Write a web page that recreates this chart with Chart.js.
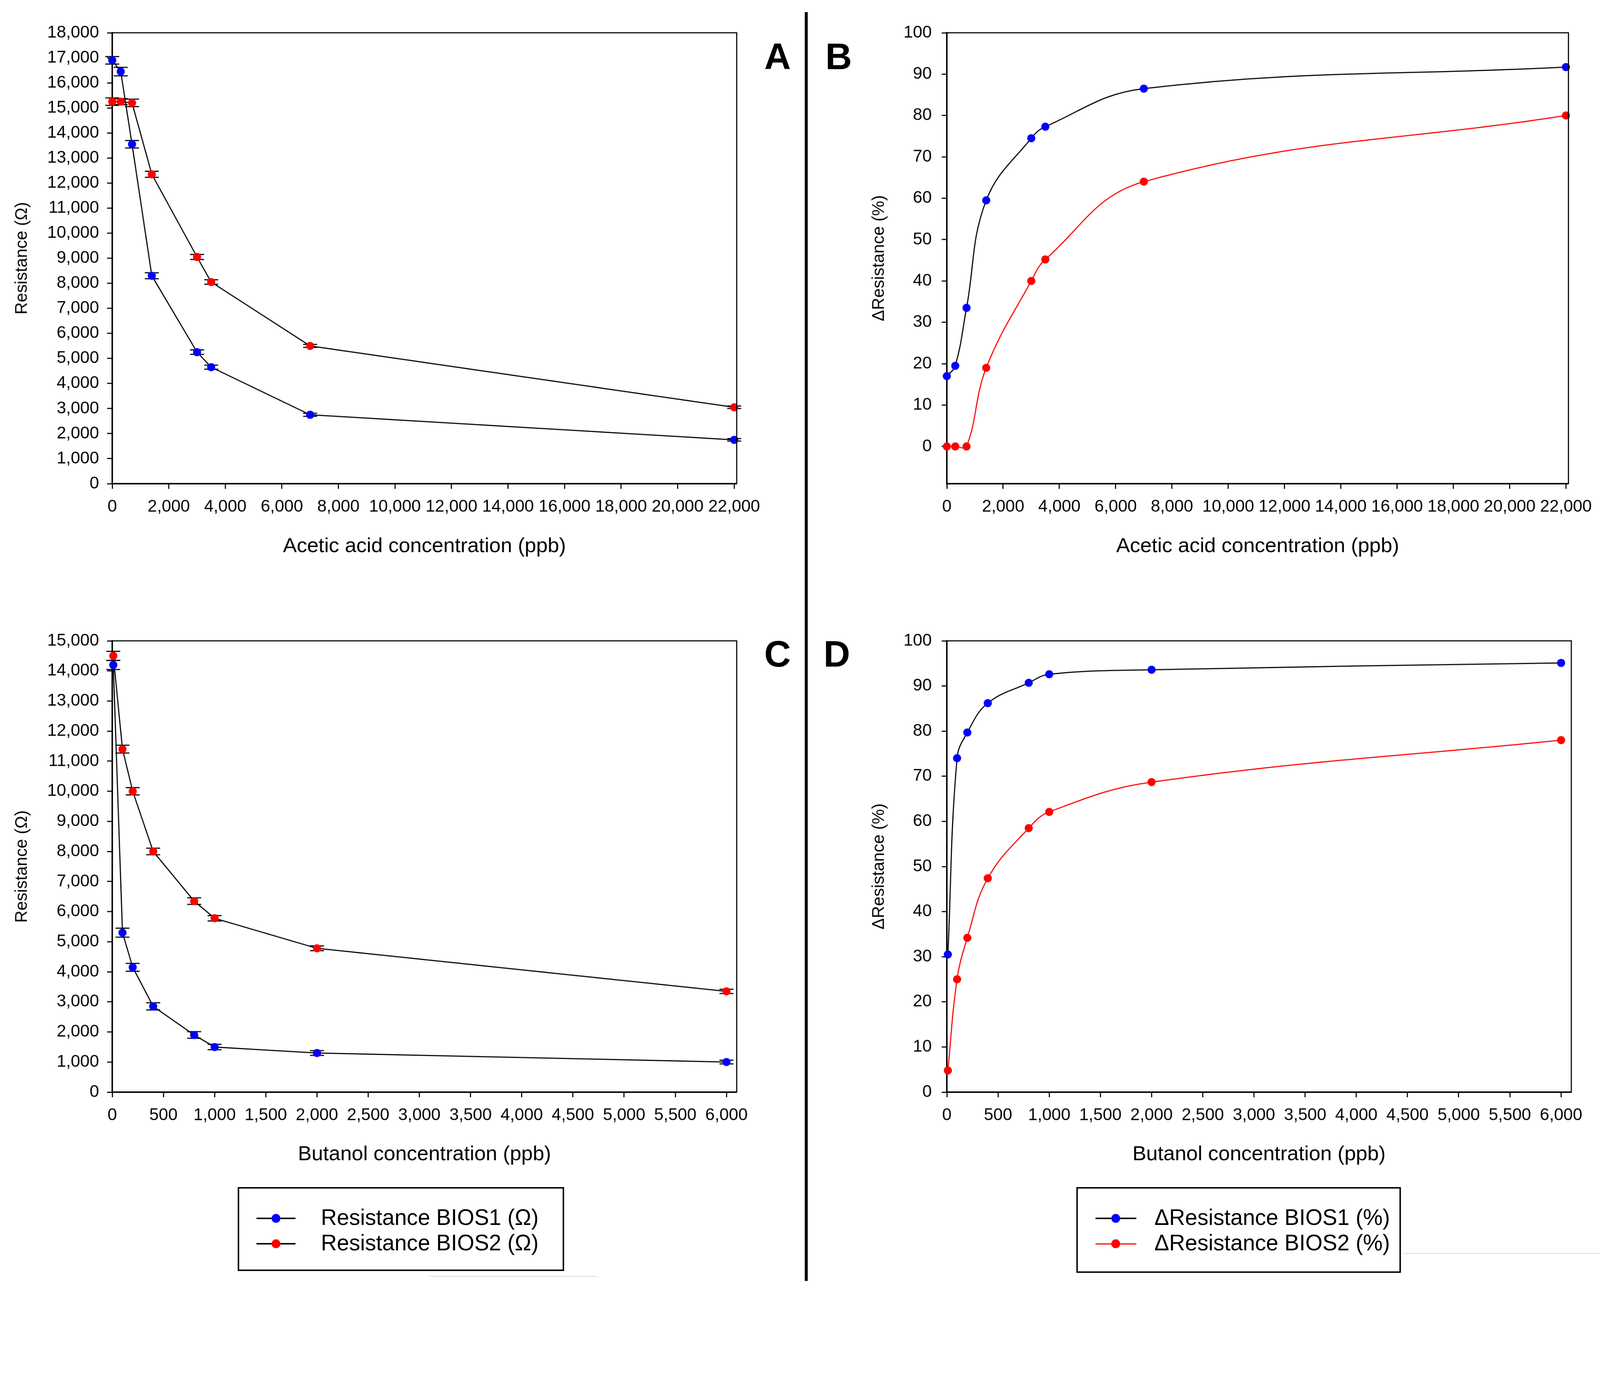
<!DOCTYPE html>
<html>
<head>
<meta charset="utf-8">
<script src="https://cdn.jsdelivr.net/npm/chart.js@4.4.0/dist/chart.umd.min.js"></script>
<style>
  html, body { margin:0; padding:0; background:#fff; overflow:hidden; }
  body { font-family:"Liberation Sans", Arial, sans-serif; color:#000; }
  #page { position:absolute; left:0; top:0; width:4348px; height:3519px; transform-origin:0 0; background:#fff; }
  canvas { position:absolute; }
  .letter { position:absolute; font:bold 100px "Liberation Sans", Arial, sans-serif; line-height:1; }
  .divider { position:absolute; left:2187px; top:33px; width:8px; height:3447px; background:#000; }
  .legend { position:absolute; border:4px solid #000; box-sizing:border-box; background:#fff; }
  .legend .line { position:absolute; height:4px; }
  .legend .dot { position:absolute; width:24px; height:24px; border-radius:50%; }
  .legend .label { position:absolute; font-size:60px; line-height:1; white-space:nowrap; }
  .ghost { position:absolute; height:3px; background:#e4e4e4; }
</style>
</head>
<body>
<div id="page">
<canvas id="panelA" width="2180" height="1560" style="left:0;top:0"></canvas>
<canvas id="panelB" width="2148" height="1560" style="left:2200px;top:0"></canvas>
<canvas id="panelC" width="2180" height="1560" style="left:0;top:1650px"></canvas>
<canvas id="panelD" width="2148" height="1560" style="left:2200px;top:1650px"></canvas>

<div class="divider"></div>
<div class="letter" style="left:2077px;top:103px">A</div>
<div class="letter" style="left:2243px;top:103px">B</div>
<div class="letter" style="left:2077px;top:1726px">C</div>
<div class="letter" style="left:2238px;top:1726px">D</div>

<div class="legend" style="left:646px;top:3225px;width:887px;height:228px">
  <div class="line" style="left:47px;top:79px;width:106px;background:#000"></div>
  <div class="dot" style="left:88px;top:69px;background:#0000ff"></div>
  <div class="label" style="left:222px;top:49px">Resistance BIOS1 (Ω)</div>
  <div class="line" style="left:47px;top:148px;width:106px;background:#000"></div>
  <div class="dot" style="left:88px;top:138px;background:#ff0000"></div>
  <div class="label" style="left:222px;top:118px">Resistance BIOS2 (Ω)</div>
</div>
<div class="ghost" style="left:1165px;top:3466px;width:457px"></div>

<div class="legend" style="left:2925px;top:3225px;width:882px;height:233px">
  <div class="line" style="left:48px;top:79px;width:111px;background:#000"></div>
  <div class="dot" style="left:91px;top:69px;background:#0000ff"></div>
  <div class="label" style="left:208px;top:49px">ΔResistance BIOS1 (%)</div>
  <div class="line" style="left:48px;top:149px;width:111px;height:3px;background:#ff0000"></div>
  <div class="dot" style="left:91px;top:138px;background:#ff0000"></div>
  <div class="label" style="left:208px;top:118px">ΔResistance BIOS2 (%)</div>
</div>
<div class="ghost" style="left:3812px;top:3404px;width:536px"></div>
</div>

<script>
// acetic acid exposure (panels A, B)
const acidPpb = [0, 300, 700, 1400, 3000, 3500, 7000, 22000];
const acidResBios1 = [16900, 16450, 13550, 8300, 5250, 4650, 2750, 1750];
const acidResBios2 = [15250, 15250, 15200, 12350, 9050, 8050, 5500, 3050];
const acidErrBios1 = [150, 170, 150, 120, 90, 80, 60, 50];
const acidErrBios2 = [150, 120, 150, 120, 100, 90, 60, 50];
const acidDeltaBios1 = [17, 19.5, 33.5, 59.5, 74.5, 77.3, 86.5, 91.7];
const acidDeltaBios2 = [0, 0, 0, 19, 40, 45.2, 64, 80];

// butanol exposure (panels C, D)
const butanolPpb = [10, 100, 200, 400, 800, 1000, 2000, 6000];
const butResBios1 = [14200, 5300, 4150, 2850, 1900, 1500, 1300, 1000];
const butResBios2 = [14500, 11400, 10000, 8000, 6350, 5780, 4780, 3350];
const butErrBios1 = [150, 150, 130, 120, 110, 90, 80, 60];
const butErrBios2 = [150, 130, 120, 110, 110, 90, 80, 70];
const butDeltaBios1 = [30.5, 74, 79.7, 86.2, 90.7, 92.6, 93.6, 95.1];
const butDeltaBios2 = [4.8, 25, 34.2, 47.4, 58.5, 62.1, 68.7, 78];

// tick labels
const acidTicks = [0, 2000, 4000, 6000, 8000, 10000, 12000, 14000, 16000, 18000, 20000, 22000];
const butanolTicks = [0, 500, 1000, 1500, 2000, 2500, 3000, 3500, 4000, 4500, 5000, 5500, 6000];
const resAcidTicks = [0, 1000, 2000, 3000, 4000, 5000, 6000, 7000, 8000, 9000, 10000, 11000, 12000, 13000, 14000, 15000, 16000, 17000, 18000];
const resButTicks = [0, 1000, 2000, 3000, 4000, 5000, 6000, 7000, 8000, 9000, 10000, 11000, 12000, 13000, 14000, 15000];
const pctTicks = [0, 10, 20, 30, 40, 50, 60, 70, 80, 90, 100];

// the layout is drawn on a 4348x3519 sheet, scaled to whatever the window really is
const page = document.getElementById('page');
const fit = Math.min(window.innerWidth / 4348, window.innerHeight / 3519);
page.style.transform = 'scale(' + fit + ')';

Chart.defaults.font.family = '"Liberation Sans", Arial, sans-serif';
Chart.defaults.color = '#000';

const BLUE = '#0000ff';
const RED = '#ff0000';

function pairs(xs, ys) {
  return xs.map((x, i) => ({ x: x, y: ys[i] }));
}

// top and right sides of the plot frame
const frame = {
  id: 'frame',
  afterDraw(chart) {
    const { ctx, chartArea: a } = chart;
    ctx.save();
    ctx.strokeStyle = '#000';
    ctx.lineWidth = 3;
    ctx.beginPath();
    ctx.moveTo(a.left, a.top);
    ctx.lineTo(a.right, a.top);
    ctx.lineTo(a.right, a.bottom);
    ctx.stroke();
    ctx.restore();
  }
};

const errorBars = {
  id: 'errorBars',
  beforeDatasetsDraw(chart) {
    const { ctx, scales: { x, y } } = chart;
    chart.data.datasets.forEach(ds => {
      if (!ds.errors) return;
      ctx.save();
      ctx.strokeStyle = '#000';
      ctx.lineWidth = 3;
      ds.data.forEach((p, i) => {
        const px = x.getPixelForValue(p.x);
        const hi = y.getPixelForValue(p.y + ds.errors[i]);
        const lo = y.getPixelForValue(p.y - ds.errors[i]);
        ctx.beginPath();
        ctx.moveTo(px, hi); ctx.lineTo(px, lo);
        ctx.moveTo(px - 19, hi); ctx.lineTo(px + 19, hi);
        ctx.moveTo(px - 19, lo); ctx.lineTo(px + 19, lo);
        ctx.stroke();
      });
      ctx.restore();
    });
  }
};

function series(data, dotColor, lineColor, tension, errors) {
  return {
    data: data,
    errors: errors,
    borderColor: lineColor,
    borderWidth: 3,
    tension: tension,
    pointRadius: 11,
    pointBorderWidth: 0,
    pointBackgroundColor: dotColor,
    pointBorderColor: dotColor,
    clip: false
  };
}

function panel(id, o) {
  return new Chart(document.getElementById(id), {
    type: 'line',
    data: { datasets: o.datasets },
    options: {
      responsive: false,
      animation: false,
      layout: { padding: { top: o.top, right: o.right, left: 0, bottom: 0 } },
      plugins: { legend: { display: false }, tooltip: { enabled: false } },
      scales: {
        x: {
          type: 'linear',
          min: 0,
          max: o.xMax,
          afterBuildTicks: axis => { axis.ticks = o.xTicks.map(v => ({ value: v })); },
          afterFit: axis => { axis.height = o.xHeight; },
          border: { color: '#000', width: 4 },
          grid: { drawOnChartArea: false, drawTicks: true, tickLength: 14, tickWidth: 3, tickColor: '#000' },
          ticks: {
            font: { size: 46 },
            padding: 22,
            maxRotation: 0,
            autoSkip: false,
            callback: v => v.toLocaleString('en-US')
          },
          title: { display: true, text: o.xTitle, font: { size: 56 }, padding: { top: 0, bottom: o.xTitlePad } }
        },
        y: {
          type: 'linear',
          min: o.yMin,
          max: o.yMax,
          afterBuildTicks: axis => { axis.ticks = o.yTicks.map(v => ({ value: v })); },
          afterFit: axis => { axis.width = o.yWidth; },
          border: { color: '#000', width: 4 },
          grid: { drawOnChartArea: false, drawTicks: true, tickLength: 14, tickWidth: 3, tickColor: '#000' },
          ticks: {
            font: { size: 46 },
            padding: o.yTickPad,
            autoSkip: false,
            callback: v => v.toLocaleString('en-US')
          },
          title: { display: true, text: o.yTitle, font: { size: 46 }, padding: { top: o.yTitlePad, bottom: 0 } }
        }
      }
    },
    plugins: [frame, errorBars]
  });
}

panel('panelA', {
  top: 89, right: 178, yWidth: 305, xHeight: 246,
  xMax: 22090, xTicks: acidTicks, xTitle: 'Acetic acid concentration (ppb)', xTitlePad: 42,
  yMin: 0, yMax: 18000, yTicks: resAcidTicks, yTitle: 'Resistance (Ω)', yTitlePad: 33, yTickPad: 22,
  datasets: [
    series(pairs(acidPpb, acidResBios1), BLUE, '#000', 0, acidErrBios1),
    series(pairs(acidPpb, acidResBios2), RED, '#000', 0, acidErrBios2)
  ]
});

panel('panelB', {
  top: 89, right: 78, yWidth: 373, xHeight: 246,
  xMax: 22090, xTicks: acidTicks, xTitle: 'Acetic acid concentration (ppb)', xTitlePad: 42,
  yMin: -9, yMax: 100, yTicks: pctTicks, yTitle: 'ΔResistance (%)', yTitlePad: 162, yTickPad: 27,
  datasets: [
    series(pairs(acidPpb, acidDeltaBios2), RED, RED, 0.4),
    series(pairs(acidPpb, acidDeltaBios1), BLUE, '#000', 0.4)
  ]
});

panel('panelC', {
  top: 91, right: 178, yWidth: 305, xHeight: 243,
  xMax: 6100, xTicks: butanolTicks, xTitle: 'Butanol concentration (ppb)', xTitlePad: 40,
  yMin: 0, yMax: 15000, yTicks: resButTicks, yTitle: 'Resistance (Ω)', yTitlePad: 33, yTickPad: 22,
  datasets: [
    series(pairs(butanolPpb, butResBios1), BLUE, '#000', 0, butErrBios1),
    series(pairs(butanolPpb, butResBios2), RED, '#000', 0, butErrBios2)
  ]
});

panel('panelD', {
  top: 91, right: 78, yWidth: 373, xHeight: 243,
  xMax: 6100, xTicks: butanolTicks, xTitle: 'Butanol concentration (ppb)', xTitlePad: 40,
  yMin: 0, yMax: 100, yTicks: pctTicks, yTitle: 'ΔResistance (%)', yTitlePad: 162, yTickPad: 27,
  datasets: [
    series(pairs(butanolPpb, butDeltaBios2), RED, RED, 0.4),
    series(pairs(butanolPpb, butDeltaBios1), BLUE, '#000', 0.4)
  ]
});
</script>
</body>
</html>
